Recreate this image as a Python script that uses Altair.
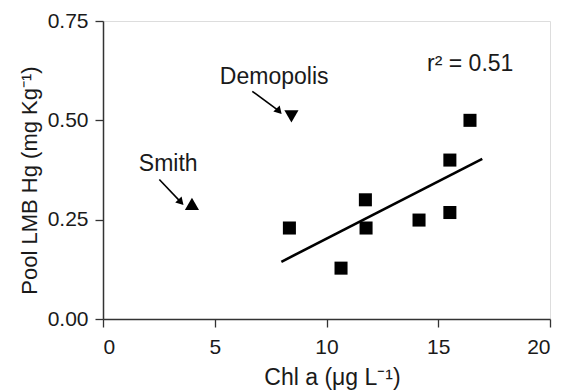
import altair as alt
import pandas as pd

# Data
chl = [8.34, 10.65, 11.74, 11.77, 14.14, 15.52, 15.52, 16.42]
hg = [0.229, 0.128, 0.300, 0.229, 0.249, 0.400, 0.268, 0.500]

smith_x = [3.98]
smith_y = [0.29]
demo_x = [8.43]
demo_y = [0.51]

fit_x = [7.98, 16.97]
fit_y = [0.144, 0.403]

label_names = ["Smith", "Demopolis", "r² = 0.51"]
label_x = [2.92, 7.66, 16.43]
label_y = [0.391, 0.608, 0.643]

arrow_x1 = [2.52, 6.68]
arrow_y1 = [0.351, 0.573]
arrow_x2 = [3.45, 7.84]
arrow_y2 = [0.296, 0.525]

FONT = "Liberation Sans"
INK = "#1a1a1a"

xs = alt.Scale(domain=[0, 20], nice=False, zero=False)
ys = alt.Scale(domain=[0, 0.75], nice=False, zero=False)

pts = pd.DataFrame({"x": chl, "y": hg})
fit = pd.DataFrame({"x": fit_x, "y": fit_y})
smith = pd.DataFrame({"x": smith_x, "y": smith_y})
demo = pd.DataFrame({"x": demo_x, "y": demo_y})
labels = pd.DataFrame({"x": label_x, "y": label_y, "t": label_names})
arrows = pd.DataFrame({"x": arrow_x1, "y": arrow_y1, "x2": arrow_x2, "y2": arrow_y2})

xaxis = alt.Axis(
    values=[0, 5, 10, 15, 20], format="d", grid=False,
    title="Chl a (μg L⁻¹)", titleFont=FONT, titleFontSize=23, titleFontWeight="normal",
    titleColor=INK, titleX=229, titleY=65, titleBaseline="alphabetic", titleAlign="center",
    labelFont=FONT, labelFontSize=21, labelColor=INK, labelPadding=9,
    tickSize=8, tickColor="#333", domainColor="#333", tickWidth=1.3, domainWidth=1.5,
)
yaxis = alt.Axis(
    values=[0, 0.25, 0.5, 0.75], format=".2f", grid=False,
    title="Pool LMB Hg (mg Kg⁻¹)", titleFont=FONT, titleFontSize=22, titleFontWeight="normal",
    titleColor=INK, titleX=-74, titleY=159, titleAngle=-90, titleBaseline="middle", titleAlign="center",
    labelFont=FONT, labelFontSize=21, labelColor=INK, labelPadding=7,
    tickSize=8, tickColor="#333", domainColor="#333", tickWidth=1.3, domainWidth=1.5,
)

base_x = alt.X("x:Q", scale=xs, axis=xaxis)
base_y = alt.Y("y:Q", scale=ys, axis=yaxis)

squares = alt.Chart(pts).mark_point(shape="square", filled=True, color="black", size=170, opacity=1).encode(
    x=base_x, y=base_y)

line = alt.Chart(fit).mark_line(color="black", strokeWidth=2.6).encode(
    x=alt.X("x:Q", scale=xs), y=alt.Y("y:Q", scale=ys))

up = alt.Chart(smith).mark_point(shape="triangle-up", filled=True, color="black", size=200, opacity=1).encode(
    x=alt.X("x:Q", scale=xs), y=alt.Y("y:Q", scale=ys))
down = alt.Chart(demo).mark_point(shape="triangle-down", filled=True, color="black", size=200, opacity=1).encode(
    x=alt.X("x:Q", scale=xs), y=alt.Y("y:Q", scale=ys))

text = alt.Chart(labels).mark_text(font=FONT, fontSize=23, color=INK, align="center", baseline="middle").encode(
    x=alt.X("x:Q", scale=xs), y=alt.Y("y:Q", scale=ys), text="t:N")

rules = alt.Chart(arrows).mark_rule(color="black", strokeWidth=1.6).encode(
    x=alt.X("x:Q", scale=xs), y=alt.Y("y:Q", scale=ys),
    x2="x2:Q", y2="y2:Q")
heads = alt.Chart(arrows).mark_point(shape="triangle", filled=True, color="black", size=75, opacity=1, angle=137).encode(
    x=alt.X("x2:Q", scale=xs), y=alt.Y("y2:Q", scale=ys))

chart = alt.layer(line, squares, up, down, rules, heads, text).properties(
    width=447, height=298,
    autosize=alt.AutoSizeParams(type="none"),
    padding={"left": 103, "top": 21, "right": 13, "bottom": 71},
).configure_view(stroke="#333", strokeWidth=1.5).configure(background="white")

chart.save("out.html", embed_options={"renderer": "svg", "actions": False})
